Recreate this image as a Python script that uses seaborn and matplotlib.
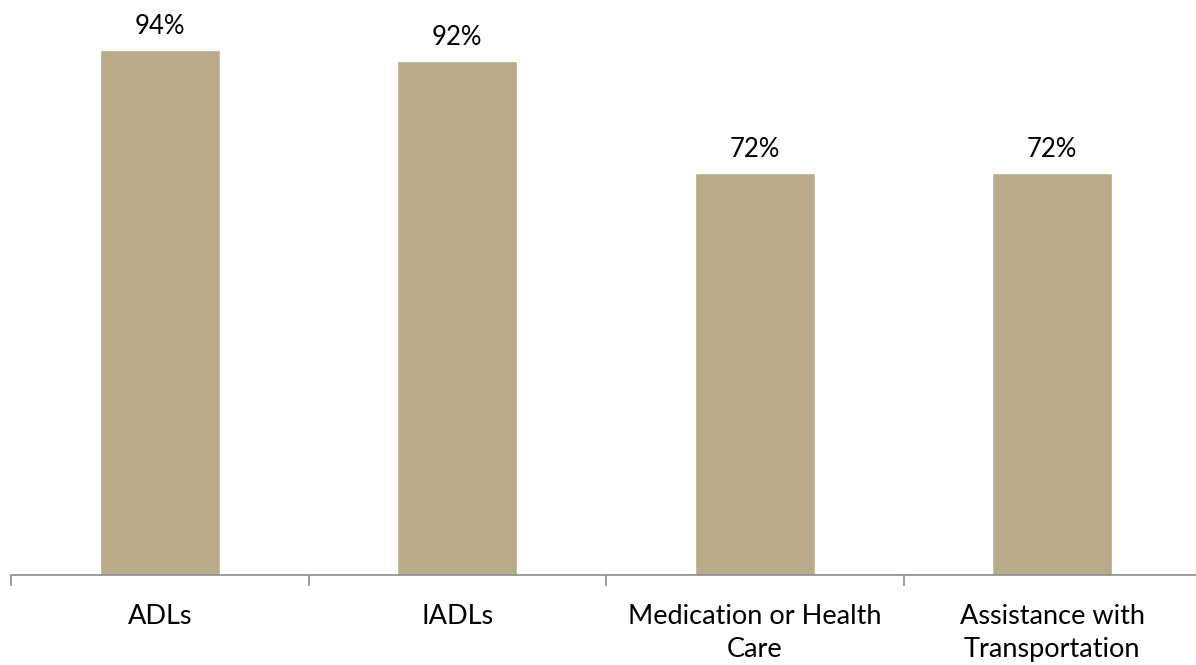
import matplotlib
matplotlib.use("Agg")
import matplotlib.pyplot as plt
import seaborn as sns
import pandas as pd
import numpy as np

categories = ["ADLs", "IADLs", "Medication or Health\nCare", "Assistance with\nTransportation"]
values = [0.94, 0.92, 0.72, 0.72]
value_labels = ["94%", "92%", "72%", "72%"]

sns.set_theme(style="white")
plt.rcParams['font.family'] = ['Lato', 'DejaVu Sans']

df = pd.DataFrame({"category": categories, "value": values})

fig = plt.figure(figsize=(11.96, 6.65), dpi=100)
ax = fig.add_axes([11/1196, 1 - 575/665, 1190/1196, 559/665])

sns.barplot(data=df, x="category", y="value", color="#B9AA8A", saturation=1,
            width=0.403, ax=ax)

ax.set_ylim(0, 1.0)
ax.set_xlim(-0.5, len(categories) - 0.5)
ax.set_xlabel("")
ax.set_ylabel("")
ax.set_yticks([])
for s in ["top", "right", "left"]:
    ax.spines[s].set_visible(False)
ax.spines["bottom"].set_color("#8C8C8C")
ax.spines["bottom"].set_linewidth(1.2)

ax.set_xticks(range(len(categories)))
ax.set_xticklabels(categories, fontsize=19.5, color="#000000", linespacing=1.4)
ax.tick_params(axis="x", which="major", length=0, pad=21)
ax.set_xticks(np.arange(-0.5, len(categories), 1.0), minor=True)
ax.tick_params(axis="x", which="minor", length=8, width=1.2, color="#8C8C8C", bottom=True)

for i, (v, lab) in enumerate(zip(values, value_labels)):
    ax.text(i, v + 0.019, lab, ha="center", va="bottom", fontsize=18.5, color="#000000")

fig.savefig("out.png", dpi=100)
